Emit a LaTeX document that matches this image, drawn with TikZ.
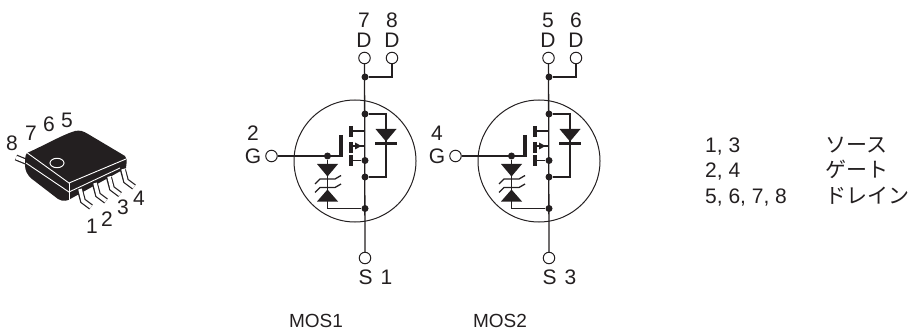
\documentclass[tikz,border=0pt]{standalone}
\usepackage{fontspec}
\setmainfont{Liberation Sans}
\newfontfamily\cjkfont{Noto Sans CJK JP}
\definecolor{ink}{HTML}{231F20}
\tikzset{
  wire/.style={draw=ink,line width=1.3pt},
  thinring/.style={draw=ink,line width=1pt},
  heavy/.style={draw=ink,line width=3.2pt},
  term/.style={circle,draw=ink,line width=1pt,fill=white,minimum size=11.5pt,inner sep=0pt},
  junction/.style={circle,fill=ink,minimum size=7pt,inner sep=0pt},
  lbl/.style={text=ink,inner sep=0pt,font=\fontsize{21}{25}\selectfont},
  leadout/.style={draw=ink,line width=6pt,line join=miter},
  leadin/.style={draw=white,line width=3.6pt,line join=miter},
}
\newcommand{\mosfet}[7]{%
\begin{scope}[xshift=#2pt]
  \node[term] (#1dl) at (364.5,58) {};
  \node[term] (#1dr) at (392,58) {};
  \node[term] (#1g) at (271.5,156) {};
  \node[term] (#1s) at (365,258) {};
  \node[junction] (#1ja) at (365,77) {};
  \node[junction] (#1jb) at (365,114) {};
  \node[junction] (#1jc) at (365,160.5) {};
  \node[junction] (#1jd) at (365,177) {};
  \node[junction] (#1je) at (365,208.5) {};
  \node[junction] (#1jg) at (327.5,156) {};
  \coordinate (#1gb) at (341,156);
  \coordinate (#1cn) at (355,161);
  \coordinate (#1dx) at (386,114);
  \coordinate (#1dy) at (386,177);
  \coordinate (#1zb) at (327.5,208.5);
  \draw[thinring] (#1cn) circle (61);
  \draw[wire] (#1dl) -- (#1s);
  \draw[wire] (#1ja) -| (#1dr);
  \draw[wire] (#1jb) -- (#1dx) -- (#1dy) -- (#1jd);
  \draw[wire] (#1g) -- (#1gb);
  \draw[wire] (#1jg) -- (#1zb) -- (#1je);
  \fill[ink] (375.5,129) -- (396.5,129) -- (386,141.5) -- cycle;
  \draw[heavy] (375,143.5) -- (397,143.5);
  \draw[heavy] (341,135) -- (341,157);
  \draw[heavy] (351,126) -- (351,137);
  \draw[heavy] (351,142) -- (351,153);
  \draw[heavy] (351,155) -- (351,166);
  \draw[wire] (351,131) -- (365,131);
  \draw[wire] (351,146) -- (365,146);
  \draw[wire] (351,160.5) -- (#1jc);
  \fill[ink] (355,142.5) -- (361.5,146) -- (355,149.5) -- cycle;
  \fill[ink] (317,164) -- (338,164) -- (327.5,176.5) -- cycle;
  \fill[ink] (317,201.5) -- (338,201.5) -- (327.5,189.5) -- cycle;
  \draw[wire] (315,184) -- (320,179) -- (335,179) -- (341,175.5);
  \draw[wire] (315,192.5) -- (320,187.5) -- (335,187.5) -- (341,184);
  \node[lbl] (#1t1) at (364,20) {#3};
  \node[lbl] (#1t2) at (364,40) {D};
  \node[lbl] (#1t3) at (392,20) {#4};
  \node[lbl] (#1t4) at (392,40) {D};
  \node[lbl] (#1t5) at (253,133) {#5};
  \node[lbl] (#1t6) at (253,156) {G};
  \node[lbl,anchor=west] (#1t7) at (358.5,277) {S\kern8pt #6};
  \node[lbl] (#1t8) at (316,321) {\fontsize{19}{23}\selectfont #7};
\end{scope}}
\begin{document}
\begin{tikzpicture}[x=1pt,y=-1pt]
\useasboundingbox (0,0) rectangle (909,331);
% package
\draw[leadout] (16,157.5) -- (27,162);
\draw[leadin] (16,157.5) -- (27,162);
\fill[ink] (27,153) .. controls (45,145) and (62,135) .. (75,131)
  .. controls (80,130) and (83,131) .. (88,134)
  -- (125,156) .. controls (127,158) and (127,160) .. (126,168)
  -- (72,198) .. controls (68,201) and (63,202) .. (58,199)
  -- (32,179) .. controls (27,175) and (25,170) .. (25,165)
  .. controls (25,160) and (25,155) .. (27,153) -- cycle;
\foreach \dx/\dy in {0/0,15/-6,29/-12.5,43/-20}{
  \draw[leadout] (80+\dx,190+\dy) -- (83+\dx,201+\dy) -- (91+\dx,207+\dy);
  \draw[leadin] (80+\dx,189+\dy) -- (83+\dx,201+\dy) -- (91+\dx,207+\dy);
}
\draw[white,line width=0.9pt] (26,152) -- (69,183) -- (126,159);
\draw[white,line width=0.9pt] (26,163) -- (69,192) -- (120,168);
\draw[white,line width=0.9pt] (69,183) -- (69,201);
\draw[white,line width=1pt] (57,163) ellipse (7 and 4.7);
\node[lbl] (p8) at (12,143) {8};
\node[lbl] (p7) at (31,133) {7};
\node[lbl] (p6) at (49,124) {6};
\node[lbl] (p5) at (67,120) {5};
\node[lbl] (p1) at (92,226) {1};
\node[lbl] (p2) at (107,219) {2};
\node[lbl] (p3) at (123,207) {3};
\node[lbl] (p4) at (139,198) {4};
\mosfet{a}{0}{7}{8}{2}{1}{MOS1}
\mosfet{b}{184}{5}{6}{4}{3}{MOS2}
% table
\node[lbl,anchor=base west] (r1) at (705,153) {1, 3};
\node[lbl,anchor=base west] (r2) at (705,178) {2, 4};
\node[lbl,anchor=base west] (r3) at (705,203) {5, 6, 7, 8};
\node[lbl,anchor=base west] (k1) at (825,153) {\cjkfont ソース};
\node[lbl,anchor=base west] (k2) at (825,178) {\cjkfont ゲート};
\node[lbl,anchor=base west] (k3) at (825,203) {\cjkfont ドレイン};
\end{tikzpicture}
\end{document}
